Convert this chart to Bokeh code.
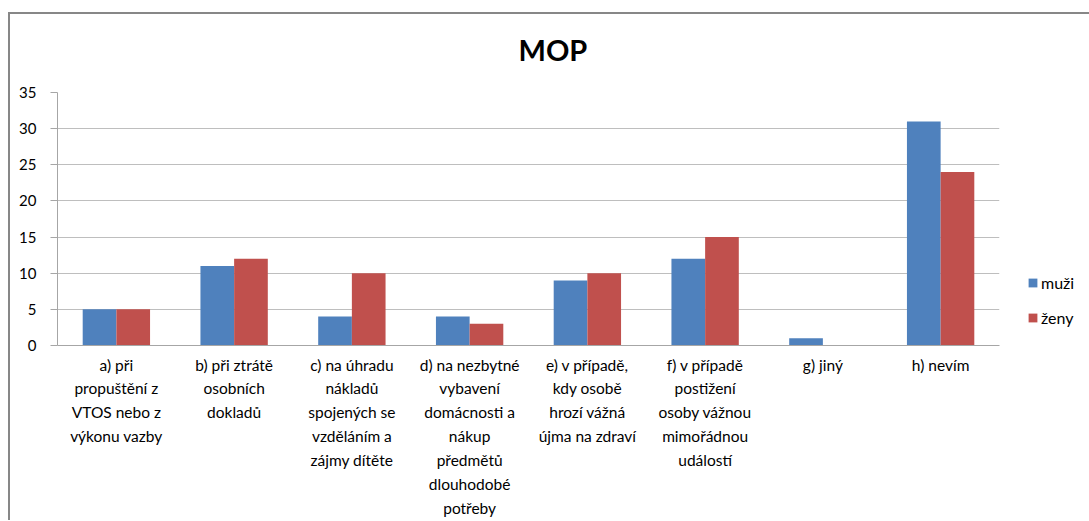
from bokeh.plotting import figure
from bokeh.models import FactorRange, Range1d, Legend, LegendItem, FixedTicker, ColumnDataSource, Title
from bokeh.transform import dodge
from bokeh.embed import file_html
from bokeh.resources import INLINE

# ---- data ----
categories = [
    "a) při\npropuštění z\nVTOS nebo z\nvýkonu vazby",
    "b) při ztrátě\nosobních\ndokladů",
    "c) na úhradu\nnákladů\nspojených se\nvzděláním a\nzájmy dítěte",
    "d) na nezbytné\nvybavení\ndomácnosti a\nnákup\npředmětů\ndlouhodobé\npotřeby",
    "e) v případě,\nkdy osobě\nhrozí vážná\nújma na zdraví",
    "f) v případě\npostižení\nosoby vážnou\nmimořádnou\nudálostí",
    "g) jiný",
    "h) nevím",
]
muzi = [5, 11, 4, 4, 9, 12, 1, 31]
zeny = [5, 12, 10, 3, 10, 15, 0, 24]
series_names = ["muži", "ženy"]
y_ticks = [0, 5, 10, 15, 20, 25, 30, 35]
title_text = "MOP"

# ---- styles ----
BLUE = "#4F81BD"
RED = "#C0504D"
FONT = "Lato"
BAR_W = 0.286
FRAME_LINE = "#878787"

src = ColumnDataSource(dict(cat=categories, muzi=muzi, zeny=zeny))

p = figure(
    x_range=FactorRange(*categories, range_padding=0),
    y_range=Range1d(0, 35),
    frame_width=942, frame_height=253,
    output_backend="svg", toolbar_location=None,
    min_border_left=57, min_border_right=88, min_border_top=92, min_border_bottom=170,
)
# outer chart-area border (top and left edges visible in the reference)
p.styles = {
    "background": (f"linear-gradient({FRAME_LINE},{FRAME_LINE}) 8px 12px / 100% 2px no-repeat, "
                   f"linear-gradient({FRAME_LINE},{FRAME_LINE}) 8px 12px / 2px 100% no-repeat, white"),
}
p.border_fill_alpha = 0

r1 = p.vbar(x=dodge("cat", -BAR_W / 2, range=p.x_range), top="muzi", width=BAR_W,
            source=src, fill_color=BLUE, line_color=None)
r2 = p.vbar(x=dodge("cat", BAR_W / 2, range=p.x_range), top="zeny", width=BAR_W,
            source=src, fill_color=RED, line_color=None)

p.title = Title(text=title_text, align="left", offset=461, vertical_align="top",
                text_font=FONT, text_font_size="29px", text_font_style="bold",
                text_color="#000000", standoff=47)

p.outline_line_color = None
p.background_fill_color = "white"

p.xgrid.grid_line_color = None
p.ygrid.grid_line_color = "#BEBEBE"
p.ygrid.grid_line_width = 1

p.yaxis.ticker = FixedTicker(ticks=y_ticks)
p.yaxis.axis_line_color = "#A6A6A6"
p.yaxis.major_tick_line_color = "#A6A6A6"
p.yaxis.major_tick_out = 7
p.yaxis.major_tick_in = 0
p.yaxis.minor_tick_line_color = None
p.yaxis.major_label_standoff = 14
p.yaxis.major_label_text_font = FONT
p.yaxis.major_label_text_font_size = "15px"
p.yaxis.major_label_text_color = "#000000"

p.xaxis.axis_line_color = "#A6A6A6"
p.xaxis.major_tick_line_color = None
p.xaxis.minor_tick_line_color = None
p.xaxis.major_label_text_font = FONT
p.xaxis.major_label_text_font_size = "15.5px"
p.xaxis.major_label_text_line_height = 1.33
p.xaxis.major_label_text_color = "#000000"
p.xaxis.major_label_standoff = 4

legend = Legend(
    items=[LegendItem(label=series_names[0], renderers=[r1]),
           LegendItem(label=series_names[1], renderers=[r2])],
    location=(28, 18),
    label_text_font=FONT, label_text_font_size="16px", label_text_color="#000000",
    glyph_width=11, glyph_height=11, label_height=20, label_standoff=3,
    spacing=15, padding=2, margin=0,
    border_line_color=None, background_fill_alpha=0,
)
p.add_layout(legend, "right")

open("out.html", "w").write(file_html(p, INLINE))
